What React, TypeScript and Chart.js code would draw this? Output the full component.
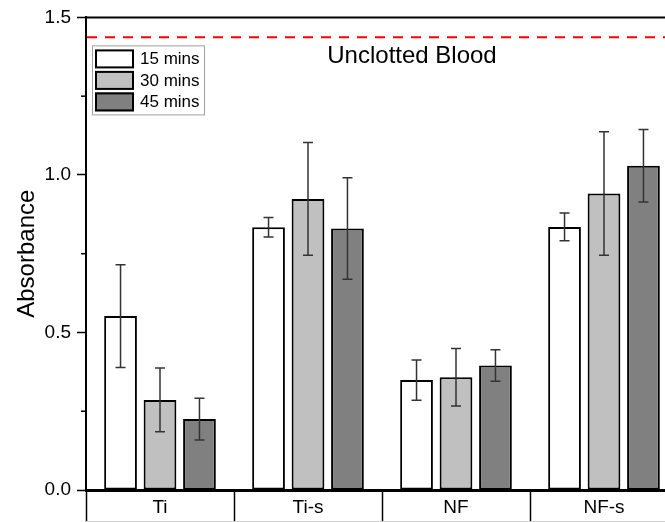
import React, { useEffect, useRef } from "react";
import { Chart, registerables } from "chart.js";

Chart.register(...registerables);

const categories = ["Ti", "Ti-s", "NF", "NF-s"];
const seriesLabels = ["15 mins", "30 mins", "45 mins"];
const m15 = [0.552, 0.834, 0.349, 0.835];
const e15 = [0.163, 0.031, 0.064, 0.044];
const m30 = [0.286, 0.924, 0.358, 0.941];
const e30 = [0.101, 0.179, 0.091, 0.196];
const m45 = [0.225, 0.83, 0.395, 1.029];
const e45 = [0.066, 0.161, 0.05, 0.115];
const errors = [e15, e30, e45];
const unclottedBlood = 1.437;
const unclottedLabel = "Unclotted Blood";
const yMajorTicks = [0, 0.5, 1.0, 1.5];
const yMinorTicks = [0.25, 0.75, 1.25];
const fills = ["#ffffff", "#c0c0c0", "#808080"];

const FONT = "'Liberation Sans', Arial, sans-serif";

const overlayPlugin = {
  id: "overlay",
  afterDatasetsDraw(chart: any) {
    const ctx = chart.ctx;
    const area = chart.chartArea;
    const y = chart.scales.y;
    ctx.save();
    // error bars
    errors.forEach((errs, d) => {
      const meta = chart.getDatasetMeta(d);
      const vals = chart.data.datasets[d].data as number[];
      meta.data.forEach((bar: any, i: number) => {
        const x = bar.x;
        const yt = y.getPixelForValue(vals[i] + errs[i]);
        const yb = y.getPixelForValue(vals[i] - errs[i]);
        ctx.strokeStyle = "#333333";
        ctx.lineWidth = 1.5;
        ctx.beginPath();
        ctx.moveTo(x, yt);
        ctx.lineTo(x, yb);
        ctx.moveTo(x - 5, yt);
        ctx.lineTo(x + 5, yt);
        ctx.moveTo(x - 5, yb);
        ctx.lineTo(x + 5, yb);
        ctx.stroke();
      });
    });
    // top frame
    ctx.strokeStyle = "#000";
    ctx.lineWidth = 2;
    ctx.beginPath();
    ctx.moveTo(area.left, area.top);
    ctx.lineTo(area.right, area.top);
    ctx.stroke();
    // minor ticks
    ctx.lineWidth = 1.5;
    yMinorTicks.forEach((v) => {
      const py = y.getPixelForValue(v);
      ctx.beginPath();
      ctx.moveTo(area.left - 5, py);
      ctx.lineTo(area.left, py);
      ctx.stroke();
    });
    // dashed reference line
    const ry = y.getPixelForValue(unclottedBlood);
    ctx.strokeStyle = "#ff0000";
    ctx.lineWidth = 2;
    ctx.setLineDash([10, 8]);
    ctx.beginPath();
    ctx.moveTo(area.left + 1, ry);
    ctx.lineTo(area.right, ry);
    ctx.stroke();
    ctx.setLineDash([]);
    ctx.fillStyle = "#000";
    ctx.font = `24px ${FONT}`;
    ctx.textAlign = "center";
    ctx.textBaseline = "middle";
    ctx.fillText(unclottedLabel, 412, ry + 19);
    // legend
    const lx = area.left + 6;
    const ly = area.top + 28;
    ctx.strokeStyle = "#a0a0a0";
    ctx.lineWidth = 1;
    ctx.strokeRect(lx + 0.5, ly + 0.5, 112, 69);
    seriesLabels.forEach((lab, i) => {
      const sy = ly + 4 + i * 21.5;
      ctx.fillStyle = fills[i];
      ctx.fillRect(lx + 3, sy, 39, 19);
      ctx.strokeStyle = "#000";
      ctx.lineWidth = 2;
      ctx.strokeRect(lx + 4, sy + 1, 37, 17);
      ctx.fillStyle = "#000";
      ctx.font = `17px ${FONT}`;
      ctx.textAlign = "left";
      ctx.textBaseline = "middle";
      ctx.fillText(lab, lx + 48, sy + 10);
    });
    // bottom edge of category table
    ctx.strokeStyle = "#d0d0d0";
    ctx.lineWidth = 1;
    ctx.beginPath();
    ctx.moveTo(area.left, 521.5);
    ctx.lineTo(area.right, 521.5);
    ctx.stroke();
    ctx.restore();
  },
};

export default function App() {
  const ref = useRef<HTMLCanvasElement>(null);
  useEffect(() => {
    if (!ref.current) return;
    const chart = new Chart(ref.current, {
      type: "bar",
      data: {
        labels: categories,
        datasets: [m15, m30, m45].map((d, i) => ({
          label: seriesLabels[i],
          data: d,
          backgroundColor: fills[i],
          borderColor: "#000",
          borderWidth: 2,
          borderSkipped: false,
          barPercentage: 0.83,
          categoryPercentage: 0.8,
        })),
      },
      options: {
        responsive: false,
        devicePixelRatio: 1,
        animation: false,
        layout: { padding: { top: 15, right: 2, left: 0, bottom: 0 } },
        plugins: { legend: { display: false }, tooltip: { enabled: false } },
        scales: {
          x: {
            type: "category",
            offset: true,
            grid: {
              offset: true,
              drawOnChartArea: false,
              tickLength: 32,
              tickWidth: 1.5,
              tickColor: "#000",
            },
            border: { color: "#000", width: 3 },
            ticks: {
              color: "#000",
              font: { family: FONT, size: 19 },
              padding: -26,
              maxRotation: 0,
            },
            afterFit: (s: any) => {
              s.height = 32;
            },
          },
          y: {
            min: 0,
            max: 1.5,
            afterBuildTicks: (s: any) => {
              s.ticks = yMajorTicks.map((v) => ({ value: v }));
            },
            grid: {
              drawOnChartArea: false,
              tickLength: 9,
              tickWidth: 1.5,
              tickColor: "#000",
            },
            border: { color: "#000", width: 2 },
            ticks: {
              color: "#000",
              font: { family: FONT, size: 19 },
              padding: 6,
              callback: (v: any) => Number(v).toFixed(1),
            },
            title: {
              display: true,
              text: "Absorbance",
              color: "#000",
              font: { family: FONT, size: 24 },
              padding: { top: 13, bottom: 0 },
            },
            afterFit: (s: any) => {
              s.width = 86;
            },
          },
        },
      },
      plugins: [overlayPlugin],
    });
    return () => chart.destroy();
  }, []);
  return (
    <div
      style={{
        position: "absolute",
        left: 0,
        top: 0,
        width: 665,
        height: 522,
        overflow: "hidden",
        background: "#fff",
      }}
    >
      <canvas ref={ref} width={680} height={522} style={{ display: "block" }} />
    </div>
  );
}
